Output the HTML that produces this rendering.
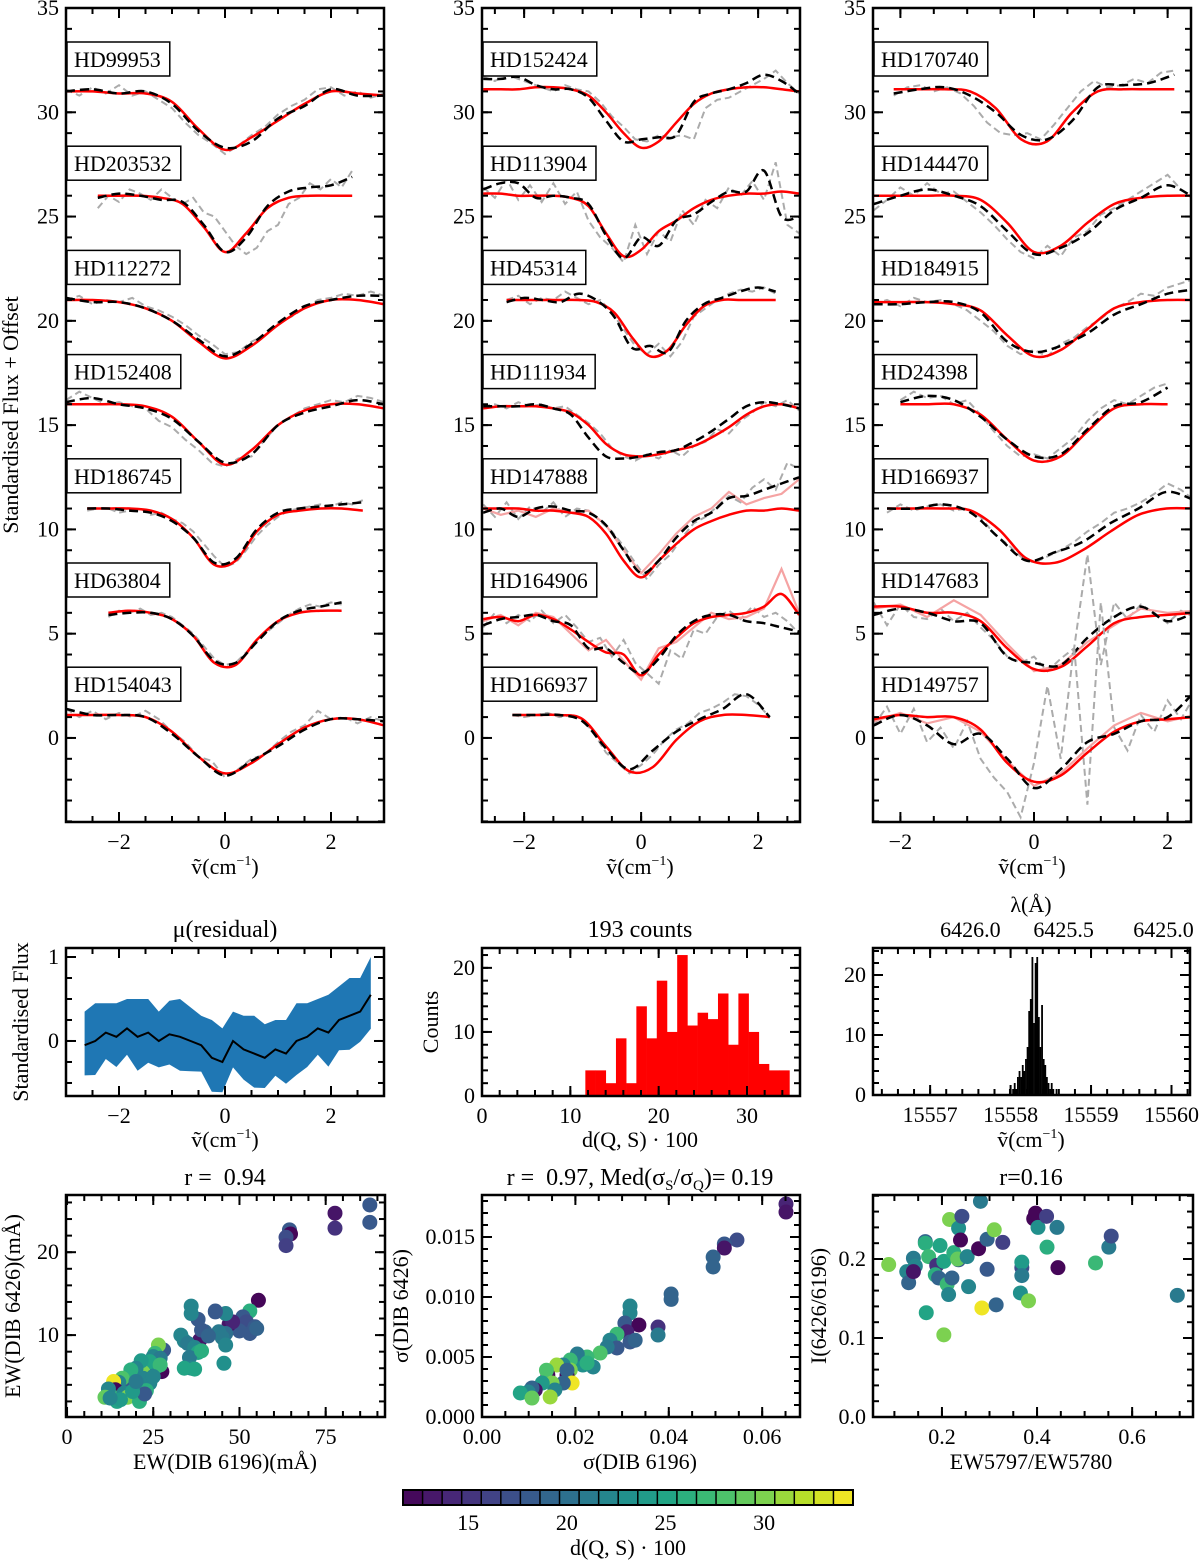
<!DOCTYPE html>
<html><head><meta charset="utf-8"><title>DIB spectra figure</title>
<style>
html,body{margin:0;padding:0;background:#fff;}
svg{display:block;font-family:"Liberation Serif",serif;}
text{white-space:pre;}
</style></head>
<body>
<svg id="fig" width="1200" height="1562" viewBox="0 0 1200 1562" xmlns="http://www.w3.org/2000/svg">
<rect x="0" y="0" width="1200" height="1562" fill="#fff"/>
<text x="18" y="415" font-size="22" text-anchor="middle" transform="rotate(-90 18 415)">Standardised Flux + Offset</text>
<text x="225" y="874" font-size="22" text-anchor="middle">ṽ(cm<tspan font-size="14" dy="-9">−1</tspan><tspan dy="9">)</tspan></text>
<text x="640" y="874" font-size="22" text-anchor="middle">ṽ(cm<tspan font-size="14" dy="-9">−1</tspan><tspan dy="9">)</tspan></text>
<text x="1032" y="874" font-size="22" text-anchor="middle">ṽ(cm<tspan font-size="14" dy="-9">−1</tspan><tspan dy="9">)</tspan></text>
<text x="225" y="937" font-size="24" text-anchor="middle">μ(residual)</text>
<text x="640" y="937" font-size="24" text-anchor="middle">193 counts</text>
<text x="1031" y="912" font-size="22" text-anchor="middle">λ(Å)</text>
<text x="28" y="1022" font-size="22" text-anchor="middle" transform="rotate(-90 28 1022)">Standardised Flux</text>
<text x="438" y="1022" font-size="22" text-anchor="middle" transform="rotate(-90 438 1022)">Counts</text>
<text x="225" y="1147" font-size="22" text-anchor="middle">ṽ(cm<tspan font-size="14" dy="-9">−1</tspan><tspan dy="9">)</tspan></text>
<text x="640" y="1147" font-size="22" text-anchor="middle">d(Q, S) · 100</text>
<text x="1031" y="1147" font-size="22" text-anchor="middle">ṽ(cm<tspan font-size="14" dy="-9">−1</tspan><tspan dy="9">)</tspan></text>
<text x="225" y="1185" font-size="24" text-anchor="middle">r =  0.94</text>
<text x="640" y="1185" font-size="24" text-anchor="middle">r =  0.97, Med(σ<tspan font-size="15" dy="5">S</tspan><tspan dy="-5">/σ</tspan><tspan font-size="15" dy="5">Q</tspan><tspan dy="-5">)= 0.19</tspan></text>
<text x="1031" y="1185" font-size="24" text-anchor="middle">r=0.16</text>
<text x="225" y="1469" font-size="22" text-anchor="middle">EW(DIB 6196)(mÅ)</text>
<text x="640" y="1469" font-size="22" text-anchor="middle">σ(DIB 6196)</text>
<text x="1031" y="1469" font-size="22" text-anchor="middle">EW5797/EW5780</text>
<text x="20" y="1306" font-size="22" text-anchor="middle" transform="rotate(-90 20 1306)">EW(DIB 6426)(mÅ)</text>
<text x="408" y="1306" font-size="22" text-anchor="middle" transform="rotate(-90 408 1306)">σ(DIB 6426)</text>
<text x="826" y="1306" font-size="22" text-anchor="middle" transform="rotate(-90 826 1306)">I(6426/6196)</text>
<text x="628" y="1555" font-size="22" text-anchor="middle">d(Q, S) · 100</text>
<g id="plots"></g>
</svg>
<script>
// ---------- spectra data (absolute y values incl. offset; evenly spaced across [x0,x1]) ----------
const HD99953_red=[31.0,31.0,30.9,30.9,30.5,29.2,28.2,28.8,29.6,30.4,31.0,30.9,30.8];
const HD99953_blk=[31.0,31.1,30.9,31.0,30.4,29.1,28.3,28.6,29.7,30.3,31.1,30.8,30.8];
const HD99953_gry=[31.1,30.8,31.2,30.9,31.3,30.8,31.0,30.6,30.2,29.5,28.9,28.5,28.0,28.4,28.9,29.3,29.9,30.3,30.6,31.1,31.2,30.8,31.0,30.7,30.9];
const HD203532_red=[26.0,26.0,26.0,25.9,25.6,24.5,23.3,24.2,25.4,25.9,26.0,26.0,26.0];
const HD203532_blk=[25.9,26.1,26.0,25.8,25.7,24.6,23.3,24.0,25.5,26.2,26.4,26.5,26.9];
const HD203532_gry=[25.4,26.0,25.7,26.3,26.1,25.8,26.3,25.9,25.6,25.9,25.2,25.0,24.3,23.6,23.2,23.5,24.3,24.6,25.6,25.9,26.6,26.3,26.8,26.4,27.2];
const HD112272_red=[21.0,21.0,20.9,20.6,20.0,19.0,18.2,18.8,19.8,20.6,21.0,21.0,20.8];
const HD112272_blk=[21.1,20.9,20.9,20.6,20.0,19.1,18.3,18.9,19.9,20.7,21.0,21.2,21.2];
const HD112272_gry=[21.0,21.2,20.8,21.0,20.9,21.1,20.7,20.5,20.2,19.8,19.3,18.9,18.4,18.5,19.0,19.3,19.9,20.2,20.6,21.0,21.1,21.3,21.2,21.4,21.2];
const HD152408_red=[16.0,16.0,16.0,15.9,15.4,14.2,13.1,13.8,15.0,15.7,16.0,16.0,15.8];
const HD152408_blk=[16.1,16.3,16.0,15.8,15.3,14.2,13.2,13.6,15.0,15.6,15.9,16.2,16.0];
const HD152408_gry=[16.2,16.6,16.3,16.0,16.1,15.9,15.8,15.2,14.9,14.3,13.8,13.2,13.0,13.4,13.5,14.3,15.0,15.4,15.8,16.0,16.2,16.1,16.4,16.3,16.1];
const HD186745_red=[11.0,11.0,11.0,10.9,10.5,9.6,8.3,8.5,9.9,10.7,10.9,11.0,11.0,10.9];
const HD186745_blk=[11.0,11.0,10.9,10.8,10.4,9.6,8.4,8.6,10.0,10.8,11.0,11.1,11.2,11.3];
const HD186745_gry=[10.9,11.0,11.0,10.8,10.9,11.0,10.7,10.8,10.5,10.3,9.9,9.3,8.7,8.2,8.4,9.0,9.7,10.2,10.6,10.9,11.0,11.1,11.2,11.1,11.3,11.2,11.4];
const HD63804_red=[6.0,6.1,6.0,5.7,4.9,3.6,3.5,4.7,5.6,6.0,6.1,6.1];
const HD63804_blk=[5.9,6.0,6.0,5.7,4.9,3.7,3.6,4.6,5.6,6.1,6.3,6.5];
const HD63804_gry=[5.8,6.1,6.0,6.2,5.9,6.0,5.8,5.4,5.0,4.4,3.8,3.5,3.6,4.1,4.6,5.1,5.5,5.9,6.2,6.4,6.3,6.5,6.4];
const HD154043_red=[1.1,1.1,1.1,1.0,0.3,-0.9,-1.7,-1.2,-0.3,0.5,0.9,0.9,0.6];
const HD154043_blk=[1.4,1.1,1.1,1.0,0.2,-0.9,-1.8,-1.1,-0.4,0.4,0.9,0.9,0.8];
const HD154043_gry=[1.4,1.0,1.3,0.9,1.2,1.0,1.3,0.9,0.3,-0.2,-0.9,-1.1,-1.9,-1.5,-1.0,-0.8,-0.2,0.3,0.6,1.3,0.9,1.0,0.7,1.0,0.8];

const HD152424_red=[31.1,31.1,31.1,31.2,31.2,31.1,30.8,30.0,29.0,28.3,28.6,29.5,30.4,30.9,31.1,31.2,31.2,31.1,31.0];
const HD152424_blk=[31.6,31.6,31.7,31.3,31.1,31.1,30.7,29.6,28.6,28.7,28.8,28.9,30.5,30.9,31.1,31.4,31.8,31.5,30.9];
const HD152424_gry=[31.7,31.5,31.8,31.6,31.4,31.2,31.0,31.3,31.1,31.0,30.5,29.8,29.3,28.7,28.6,28.9,28.8,28.9,28.7,30.2,30.6,30.7,31.0,31.3,31.6,32.0,31.4,30.9];
const HD113904_red=[26.1,26.1,26.0,26.0,26.0,25.9,25.5,24.2,23.1,23.4,24.3,24.8,25.4,25.8,26.0,26.1,26.1,26.2,26.1];
const HD113904_blk=[26.3,26.6,26.6,25.9,26.0,25.9,25.6,24.1,23.0,24.0,23.6,24.8,25.1,25.7,26.2,26.2,27.2,25.0,25.0];
const HD113904_gry=[26.4,25.9,26.8,25.8,26.5,25.7,26.6,25.6,26.2,24.8,24.0,23.5,22.8,24.6,23.2,24.3,23.8,25.3,24.6,25.8,25.4,26.4,26.0,26.7,25.8,27.6,24.6,24.2];
const HD45314_red=[21.0,21.0,21.0,21.0,21.0,20.9,20.4,19.2,18.3,18.6,19.8,20.7,21.0,21.0,21.0,21.0];
const HD45314_blk=[20.9,21.1,21.0,20.9,21.3,21.0,20.2,18.7,18.8,18.5,20.0,20.8,21.1,21.4,21.6,21.4];
const HD45314_gry=[21.0,21.2,20.8,21.1,21.0,21.4,21.1,20.8,21.0,20.4,19.6,18.8,18.4,18.9,18.3,19.0,20.2,20.6,21.0,21.3,21.5,21.4,21.6,21.3];
const HD111934_red=[15.8,15.9,15.9,15.9,15.8,15.6,15.0,14.1,13.6,13.5,13.6,13.8,14.0,14.4,14.9,15.5,15.9,16.0,15.8];
const HD111934_blk=[15.9,15.9,15.9,16.0,15.8,15.5,14.4,13.5,13.4,13.5,13.7,13.8,14.2,14.7,15.3,15.9,16.1,16.0,15.8];
const HD111934_gry=[15.9,16.0,15.8,16.1,15.9,16.0,15.8,15.9,15.5,15.1,14.6,13.9,13.5,13.3,13.6,13.4,13.8,13.5,14.0,14.2,14.8,14.6,15.2,15.6,16.1,15.9,16.2,15.7];
const HD147888_red=[11.0,11.0,11.0,10.9,10.9,10.8,10.6,9.8,8.5,7.7,8.5,9.3,10.0,10.4,10.7,10.9,10.9,11.0,10.9];
const HD147888_blk=[10.8,11.0,10.6,11.0,11.1,10.9,10.8,10.2,9.0,7.9,8.5,9.6,10.4,10.8,11.5,11.6,11.9,12.2,12.5];
const HD147888_gry=[11.2,10.6,11.3,10.5,11.1,10.8,11.3,10.6,11.0,10.9,10.4,9.9,9.2,8.4,7.6,8.3,8.8,9.6,10.3,10.6,11.1,11.6,11.3,12.0,12.4,11.9,13.2,12.9];
const HD147888_pnk=[11.0,10.7,10.9,10.6,11.0,10.8,10.9,10.2,9.0,7.9,8.8,9.8,10.6,11.0,11.8,11.2,11.5,11.7,12.4];
const HD164906_red=[5.7,5.8,5.6,5.9,5.7,5.2,4.6,4.1,4.0,3.0,4.0,4.8,5.5,5.8,5.9,6.0,6.3,6.9,5.9];
const HD164906_blk=[5.4,5.7,5.8,5.9,5.6,5.4,4.3,4.3,3.6,3.1,3.8,4.9,5.6,5.9,5.9,5.6,5.5,5.3,5.1];
const HD164906_gry=[5.3,6.0,5.5,5.9,5.6,6.1,5.5,5.9,5.3,4.6,4.8,3.9,4.7,3.6,3.1,2.6,4.2,3.8,5.2,5.0,5.8,6.1,5.7,6.3,5.8,6.0,5.6,5.0];
const HD164906_pnk=[5.6,5.9,5.4,6.0,5.8,5.0,4.2,4.7,3.7,2.8,4.3,4.6,5.3,6.0,5.7,5.8,6.2,8.1,6.0];
const HD166937_red=[1.1,1.1,1.1,0.9,-0.4,-1.6,-1.4,-0.1,0.8,1.1,1.1,1.0];
const HD166937_blk=[1.1,1.1,1.1,0.8,-0.5,-1.5,-0.6,0.3,0.9,1.4,2.1,1.0];
const HD166937_gry=[1.1,1.0,1.1,1.2,1.0,1.1,0.9,0.2,-0.7,-1.2,-1.7,-1.3,-0.8,-0.1,0.4,0.7,1.2,1.4,1.7,2.1,2.0,1.6,1.0];

const HD170740_red=[31.1,31.1,31.1,31.0,30.2,28.7,28.6,30.0,31.0,31.1,31.1,31.1];
const HD170740_blk=[30.9,31.1,31.2,30.8,30.0,28.9,28.7,29.6,31.2,31.3,31.4,31.8];
const HD170740_gry=[30.8,31.2,31.3,31.0,31.2,30.9,30.3,29.5,29.0,28.9,29.0,28.7,29.4,30.2,31.0,31.5,31.2,31.3,31.6,31.4,31.9,32.0];
const HD144470_red=[26.0,26.0,26.0,26.0,25.8,24.7,23.3,23.6,24.7,25.6,25.9,26.0,26.0];
const HD144470_blk=[25.6,26.0,26.3,26.0,25.5,24.3,23.2,23.5,24.2,25.3,25.9,26.5,25.9];
const HD144470_gry=[25.3,25.8,26.4,26.0,26.6,26.1,26.2,25.7,25.2,24.6,23.9,23.3,23.0,23.6,23.1,24.0,24.3,25.1,25.4,25.8,26.2,26.6,27.0,26.3,25.8];
const HD184915_red=[20.9,20.9,20.9,20.8,20.5,19.3,18.3,18.6,19.6,20.6,20.9,21.0,21.0];
const HD184915_blk=[20.8,20.8,20.9,20.9,20.4,19.0,18.5,18.8,19.4,20.3,20.8,21.3,21.5];
const HD184915_gry=[20.8,21.0,20.7,21.1,20.9,21.0,20.8,20.5,20.0,19.5,18.8,18.4,18.6,18.3,18.9,19.2,19.7,20.1,20.6,20.9,21.3,21.2,21.6,21.8,22.0];
const HD24398_red=[16.0,16.0,16.0,15.5,14.3,13.3,13.5,14.7,15.8,16.0,16.0];
const HD24398_blk=[16.1,16.4,16.2,15.4,14.3,13.5,13.6,14.8,15.9,16.1,16.8];
const HD24398_gry=[16.2,16.6,16.3,16.4,16.0,16.2,15.5,14.7,14.0,13.5,13.6,13.4,13.9,14.4,15.2,15.8,16.2,16.0,16.4,16.8,17.0];
const HD166937b_red=[11.0,11.0,11.0,10.9,10.0,8.6,8.4,9.0,9.9,10.7,11.0,11.0];
const HD166937b_blk=[11.0,11.0,11.2,10.8,9.6,8.5,8.9,9.4,10.3,11.0,11.8,11.4];
const HD166937b_gry=[10.8,11.2,10.9,11.1,11.2,10.9,11.0,10.6,9.8,9.3,8.7,8.4,8.7,9.0,9.4,9.9,10.3,10.8,11.0,11.3,11.7,12.2,11.9,11.4];
const HD147683_red=[6.3,6.3,6.0,6.0,5.6,4.3,3.3,3.4,4.4,5.5,5.8,5.9,6.0];
const HD147683_blk=[5.9,6.2,6.0,5.6,5.5,3.9,3.6,3.5,4.8,5.8,6.3,5.6,6.0];
const HD147683_gry=[6.5,5.4,6.4,5.8,5.7,6.2,5.6,6.0,5.3,4.7,3.9,3.6,3.9,3.2,3.8,4.3,8.8,3.5,6.5,5.7,6.4,6.0,5.5,6.1,5.8];
const HD147683_pnk=[6.2,6.4,5.8,6.6,5.9,4.5,3.2,3.5,4.6,5.4,6.2,6.0,6.1];
const HD149757_red=[0.9,1.1,1.0,1.0,0.4,-1.2,-2.1,-1.8,-0.7,0.3,0.8,0.9,1.0];
const HD149757_blk=[0.6,1.1,0.6,-0.3,0.2,-1.0,-2.4,-1.5,-0.2,0.2,0.8,1.0,2.2];
const HD149757_gry=[0.6,1.5,0.2,1.4,-0.2,0.5,-0.5,0.8,-1.0,-1.9,-2.6,-3.8,-1.2,2.5,-1.0,4.4,-3.2,6.5,0.5,-0.6,1.1,0.3,1.8,0.9,2.0];
const HD149757_pnk=[0.8,1.2,0.7,1.0,0.3,-1.1,-2.3,-1.7,-0.5,0.6,1.2,0.8,1.1];

// name, panel, x0, x1, red, black, gray, pink
const spectraList=[
 ['HD99953',0,-3,3,HD99953_red,HD99953_blk,HD99953_gry,null],
 ['HD203532',0,-2.4,2.4,HD203532_red,HD203532_blk,HD203532_gry,null],
 ['HD112272',0,-3,3,HD112272_red,HD112272_blk,HD112272_gry,null],
 ['HD152408',0,-3,3,HD152408_red,HD152408_blk,HD152408_gry,null],
 ['HD186745',0,-2.6,2.6,HD186745_red,HD186745_blk,HD186745_gry,null],
 ['HD63804',0,-2.2,2.2,HD63804_red,HD63804_blk,HD63804_gry,null],
 ['HD154043',0,-3,3,HD154043_red,HD154043_blk,HD154043_gry,null],
 ['HD152424',1,-2.7,2.7,HD152424_red,HD152424_blk,HD152424_gry,null],
 ['HD113904',1,-2.7,2.7,HD113904_red,HD113904_blk,HD113904_gry,null],
 ['HD45314',1,-2.3,2.3,HD45314_red,HD45314_blk,HD45314_gry,null],
 ['HD111934',1,-2.7,2.7,HD111934_red,HD111934_blk,HD111934_gry,null],
 ['HD147888',1,-2.7,2.7,HD147888_red,HD147888_blk,HD147888_gry,HD147888_pnk],
 ['HD164906',1,-2.7,2.7,HD164906_red,HD164906_blk,HD164906_gry,HD164906_pnk],
 ['HD166937',1,-2.2,2.2,HD166937_red,HD166937_blk,HD166937_gry,null],
 ['HD170740',2,-2.1,2.1,HD170740_red,HD170740_blk,HD170740_gry,null],
 ['HD144470',2,-2.4,2.4,HD144470_red,HD144470_blk,HD144470_gry,null],
 ['HD184915',2,-2.4,2.4,HD184915_red,HD184915_blk,HD184915_gry,null],
 ['HD24398',2,-2.0,2.0,HD24398_red,HD24398_blk,HD24398_gry,null],
 ['HD166937',2,-2.2,2.4,HD166937b_red,HD166937b_blk,HD166937b_gry,null],
 ['HD147683',2,-2.4,2.4,HD147683_red,HD147683_blk,HD147683_gry,HD147683_pnk],
 ['HD149757',2,-2.4,2.4,HD149757_red,HD149757_blk,HD149757_gry,HD149757_pnk]
];

// ---------- residual panel ----------
const residMean=[-0.05,0.0,0.1,0.05,0.15,0.05,0.1,0.0,0.08,0.05,0.0,-0.05,-0.2,-0.25,0.0,-0.1,-0.15,-0.2,-0.1,-0.15,0.0,0.05,0.15,0.1,0.25,0.3,0.35,0.55];
const residSd=[0.4,0.45,0.35,0.4,0.35,0.45,0.4,0.35,0.4,0.45,0.4,0.35,0.45,0.4,0.35,0.4,0.45,0.4,0.35,0.4,0.45,0.4,0.35,0.45,0.4,0.45,0.4,0.45];
const residRange=[-2.65,2.75];

// ---------- distance histogram ----------
const distBinStart=11.7, distBinWidth=1.155;
const distCounts=[4,4,2,9,2,14,9,18,10,22,11,13,12,16,8,16,10,5,4,4];

// ---------- wavenumber histogram ----------
const nuBinStart=15557.98, nuBinWidth=0.02;
const nuCounts=[1,0,1,2,1,3,4,3,5,4,6,8,14,16,23,12,22,23,13,8,15,6,5,3,2,1,2,1,0,1];
const topTickLabels=['6426.0','6425.5','6425.0'];
const topTickNu=[15557.5,15558.66,15559.9];

// ---------- scatter: EW ----------
const ew6196=[87.8,87.8,77.7,77.7,64.5,64.8,63.5,63.5,55.5,53,51,52,53,50,54.5,55,47,48,46,44,46,43,43,45,46,45.5,40,38.5,39,41,38,36,36,34,33,35,37,38,35.5,36,34,37,39,28,27.5,26.5,25.5,25,26,27,24,22,21,21.5,20,22,24,23,19.5,18.5,17,16,15,13.5,14,13,12,11,14.5,16.5,17.5,21,22.5,19,20,27,25,15.5,12.5];
const ew6426=[25.7,23.6,24.7,22.9,22.7,22.2,21.8,20.8,14.2,12.9,12.2,11.6,10.2,10.5,11,10.8,11.3,11.6,10.2,10.4,12.6,12.8,12.9,9.7,8.8,6.6,10.4,9.4,10.6,9.9,11.9,13.5,12.6,9.3,10,9.0,8.5,7.9,7.3,6.0,6.0,5.9,8.1,8.2,5.6,8.8,7.8,7.4,6.2,7.2,6.8,5.5,5.8,6.9,6.0,4.8,4.2,3.3,4.7,5.8,3.8,4.8,4.3,4.4,3.4,2.6,3.5,2.5,2.0,3.0,2.5,2.0,2.9,3.2,4.4,6.4,5.0,2.2,2.4];
const ewDist=[18,18,13,15,18,12,17,16,12,26,18,17,18,18,18,19,13,14,20,21,22,18,18,21,22,23,19,13,18,19,18,22,22,22,22,21,22,25,21,22,25,25,26,18,12,30,27,22,22,21,25,30,30,24,22,22,22,26,22,26,18,28,22,34,12,27,22,29,25,22,30,26,18,24,21,27,22,24,22];

// ---------- scatter: sigma ----------
const sig6196=[0.0651,0.0651,0.0546,0.0519,0.0519,0.0495,0.0495,0.0405,0.0405,0.0317,0.0317,0.0306,0.0336,0.0377,0.0377,0.031,0.0289,0.0274,0.0289,0.0317,0.0328,0.0268,0.0253,0.0225,0.0216,0.0238,0.0204,0.0189,0.0189,0.0174,0.016,0.0182,0.0182,0.0193,0.0174,0.0141,0.0138,0.015,0.0156,0.0129,0.0114,0.0107,0.0099,0.0082,0.0107,0.0146,0.0225];
const sig6426=[0.01775,0.01708,0.01475,0.01442,0.01408,0.01333,0.0125,0.01025,0.0098,0.00925,0.00867,0.00783,0.00767,0.0075,0.00683,0.0071,0.0069,0.0064,0.00575,0.00625,0.0064,0.00583,0.00533,0.005,0.00433,0.00417,0.00525,0.00475,0.00392,0.00433,0.00433,0.0035,0.0039,0.00283,0.00283,0.0035,0.0039,0.00283,0.00225,0.00283,0.00225,0.00242,0.00208,0.002,0.00158,0.00167,0.0045];
const sigDist=[14,13,17,18,13,19,19,19,19,22,22,18,12,15,21,14,27,22,18,18,19,21,28,27,23,22,21,27,30,22,31,12,19,34,19,12,28,30,22,24,13,19,22,25,29,31,26];

// ---------- scatter: ratio ----------
const ratioEW=[.088,.126,.130,.140,.144,.140,.165,.165,.172,.167,.189,.186,.193,.196,.204,.204,.211,.214,.221,.225,.216,.235,.239,.242,.235,.233,.253,.256,.277,.281,.284,.295,.295,.310,.314,.328,.365,.368,.368,.368,.382,.393,.397,.402,.420,.421,.442,.444,.523,.551,.556,.695];
const ratioI=[.193,.184,.170,.201,.191,.184,.222,.220,.203,.132,.192,.180,.176,.217,.197,.104,.168,.155,.176,.208,.250,.239,.224,.254,.199,.200,.203,.165,.213,.273,.138,.225,.187,.237,.142,.221,.157,.189,.196,.179,.147,.251,.258,.240,.254,.215,.240,.189,.195,.215,.229,.154];
const ratioDist=[30,22,19,21,22,13,19,26,27,25,15,26,19,25,25,30,27,22,19,26,30,23,12,17,18,29,22,22,12,21,34,19,18,30,19,16,23,17,24,21,30,12,12,23,16,26,21,12,27,21,17,21];

// ---------- colorbar ----------
const cbarMin=11.7, cbarMax=34.5;
const cbarTicks=[15,20,25,30];

// =================== rendering ===================
const NS='http://www.w3.org/2000/svg';
const root=document.getElementById('plots');
function mk(tag,attrs,parent){const e=document.createElementNS(NS,tag);for(const k in attrs)e.setAttribute(k,attrs[k]);(parent||root).appendChild(e);return e;}
const VIR=['#440154','#482475','#414487','#355f8d','#2a788e','#21918c','#22a884','#44bf70','#7ad151','#bddf26','#fde725'];
function hex(h){return [parseInt(h.substr(1,2),16),parseInt(h.substr(3,2),16),parseInt(h.substr(5,2),16)];}
function viridis(v){let t=(v-cbarMin)/(cbarMax-cbarMin);t=Math.max(0,Math.min(1,t));const s=t*10,i=Math.min(9,Math.floor(s)),f=s-i;const a=hex(VIR[i]),b=hex(VIR[i+1]);return 'rgb('+a.map((c,k)=>Math.round(c+(b[k]-c)*f)).join(',')+')';}
let clipId=0;
function fmt(v,d){let s=v.toFixed(d);if(s.startsWith('-'))s='−'+s.slice(1);if(/^−0(\.0+)?$/.test(s))s=s.slice(1);return s;}

function axes(c){
  const g=mk('g',{});
  
  
  const sx=v=>c.x+(v-c.xmin)/(c.xmax-c.xmin)*c.w;
  const sy=v=>c.y+c.h-(v-c.ymin)/(c.ymax-c.ymin)*c.h;
  const id='clip'+(clipId++);
  const cp=mk('clipPath',{id:id},g);
  mk('rect',{x:c.x,y:c.y,width:c.w,height:c.h},cp);
  const content=mk('g',{'clip-path':'url(#'+id+')'},g);
  
  
  const tg=mk('g',{stroke:'#000','stroke-width':2},g);
  
  
  function ticks(axis,step,len,labelStep,dec){
    const mn=axis==='x'?c.xmin:c.ymin,mx=axis==='x'?c.xmax:c.ymax;
    for(let k=Math.ceil(mn/step-1e-6);k*step<=mx+1e-9;k++){
      const v=k*step;
      const isLab=labelStep&&Math.abs(v/labelStep-Math.round(v/labelStep))<1e-6;
      if(axis==='x'){
        const p=sx(v);if(p<c.x-2||p>c.x+c.w+2)continue;
        if(p>c.x+1&&p<c.x+c.w-1){
          const t1=mk('line',{x1:p,x2:p,y1:c.y+c.h,y2:c.y+c.h-len},tg);
          
          
          const t2=mk('line',{x1:p,x2:p,y1:c.y,y2:c.y+len},tg);
          
          
        }
        if(isLab){
          const t=mk('text',{x:p,y:c.y+c.h+27,'font-size':22,'text-anchor':'middle'},g);
          
          
          t.textContent=fmt(v,dec);}
      }else{
        const p=sy(v);if(p<c.y-2||p>c.y+c.h+2)continue;
        const t1=mk('line',{x1:c.x,x2:c.x+len,y1:p,y2:p},tg);
        
        
        const t2=mk('line',{x1:c.x+c.w,x2:c.x+c.w-len,y1:p,y2:p},tg);
        
        
        if(isLab){
          const t=mk('text',{x:c.x-7,y:p+7,'font-size':22,'text-anchor':'end'},g);
          
          
          t.textContent=fmt(v,dec);}
      }
    }
  }
  ticks('x',c.xMin,6,0,0);ticks('x',c.xMaj,10,c.xLab,c.xDec);
  ticks('y',c.yMin,6,0,0);ticks('y',c.yMaj,10,c.yLab,c.yDec);
  const fr=mk('rect',{x:c.x,y:c.y,width:c.w,height:c.h,fill:'none',stroke:'#000','stroke-width':2.5},g);
  
  
  return {sx,sy,g:content,outer:g};
}
function smooth(p){let d='M'+p[0][0].toFixed(1)+','+p[0][1].toFixed(1);
  for(let i=0;i<p.length-1;i++){const p0=p[i-1]||p[i],p1=p[i],p2=p[i+1],p3=p[i+2]||p2;
    const c1=[p1[0]+(p2[0]-p0[0])/6,p1[1]+(p2[1]-p0[1])/6],c2=[p2[0]-(p3[0]-p1[0])/6,p2[1]-(p3[1]-p1[1])/6];
    d+=' C'+c1[0].toFixed(1)+','+c1[1].toFixed(1)+' '+c2[0].toFixed(1)+','+c2[1].toFixed(1)+' '+p2[0].toFixed(1)+','+p2[1].toFixed(1);}
  return d;}
function pts(arr,x0,x1,A){return arr.map((v,i)=>[A.sx(x0+(x1-x0)*i/(arr.length-1)),A.sy(v)]);}
function linear(p){return 'M'+p.map(q=>q[0].toFixed(1)+','+q[1].toFixed(1)).join(' L');}

// ---- top spectra panels ----
const topCfg=[{x:66,xmin:-3,xmax:3},{x:482,xmin:-2.72,xmax:2.716},{x:873,xmin:-2.41,xmax:2.35}];
const topAxes=topCfg.map((t,i)=>axes({name:'spectra-panel-'+(i+1),x:t.x,y:8,w:318,h:814,xmin:t.xmin,xmax:t.xmax,ymin:-4.03,ymax:35,
  xMaj:2,xMin:0.5,xLab:2,xDec:0,yMaj:5,yMin:1,yLab:5,yDec:0}));
const idxInPanel=[0,0,0];
spectraList.forEach(s=>{
  const [nm,pi,x0,x1,red,blk,gry,pnk]=s;const A=topAxes[pi];
  const gp=mk('path',{d:linear(pts(gry,x0,x1,A)),fill:'none',stroke:'#ababab','stroke-width':2,'stroke-dasharray':'7 4'},A.g);
  
  
  if(pnk){const pp=mk('path',{d:linear(pts(pnk,x0,x1,A)),fill:'none',stroke:'#f5a3a3','stroke-width':2.2},A.g);
    
    }
  const rp=mk('path',{d:smooth(pts(red,x0,x1,A)),fill:'none',stroke:'#ff0000','stroke-width':2.5},A.g);
  
  
  const bp=mk('path',{d:smooth(pts(blk,x0,x1,A)),fill:'none',stroke:'#000','stroke-width':2.5,'stroke-dasharray':'9 5'},A.g);
  
  
  const k=idxInPanel[pi]++;
  const cy=59+104.2*k;
  const bx=mk('rect',{x:topCfg[pi].x+1,y:cy-17,width:100,height:34,fill:'#fff',stroke:'#000','stroke-width':1.5},topAxes[pi].outer);
  
  
  const tx=mk('text',{x:topCfg[pi].x+8,y:cy+8,'font-size':22},topAxes[pi].outer);
  
  
  tx.textContent=nm;
  try{bx.setAttribute('width',tx.getComputedTextLength()+16);}catch(e){}
});

// ---- residual panel ----
(function(){
  const A=axes({name:'residual-panel',x:66,y:948,w:318,h:148,xmin:-3,xmax:3,ymin:-0.655,ymax:1.107,xMaj:2,xMin:0.5,xLab:2,xDec:0,yMaj:1,yMin:0.25,yLab:1,yDec:0});
  const n=residMean.length,x=i=>residRange[0]+(residRange[1]-residRange[0])*i/(n-1);
  const up=residMean.map((m,i)=>[A.sx(x(i)),A.sy(m+residSd[i])]);
  const lo=residMean.map((m,i)=>[A.sx(x(i)),A.sy(m-residSd[i]*0.9)]).reverse();
  const band=mk('path',{d:linear(up.concat(lo))+' Z',fill:'#1f77b4',stroke:'none'},A.g);
  
  
  const ml=mk('path',{d:linear(residMean.map((m,i)=>[A.sx(x(i)),A.sy(m)])),fill:'none',stroke:'#000','stroke-width':2},A.g);
  
  
})();

// ---- distance histogram ----
(function(){
  const A=axes({name:'distance-histogram',x:482,y:948,w:318,h:148,xmin:0,xmax:36,ymin:0,ymax:23.1,xMaj:10,xMin:2,xLab:10,xDec:0,yMaj:10,yMin:2,yLab:10,yDec:0});
  distCounts.forEach((c,i)=>{const a=distBinStart+i*distBinWidth,b=a+distBinWidth;
    const r=mk('rect',{x:A.sx(a),y:A.sy(c),width:A.sx(b)-A.sx(a)+0.3,height:A.sy(0)-A.sy(c),fill:'#ff0000'},A.g);
    
    });
})();

// ---- wavenumber histogram ----
(function(){
  const A=axes({name:'wavenumber-histogram',x:873,y:948,w:317,h:147,xmin:15556.29,xmax:15560.23,ymin:0,ymax:24.5,xMaj:1,xMin:0.2,xLab:1,xDec:0,yMaj:10,yMin:2,yLab:10,yDec:0});
  nuCounts.forEach((c,i)=>{if(!c)return;const a=nuBinStart+i*nuBinWidth,b=a+nuBinWidth;
    const r=mk('rect',{x:A.sx(a),y:A.sy(c),width:A.sx(b)-A.sx(a)+0.2,height:A.sy(0)-A.sy(c),fill:'#000'},A.g);
    
    });
  topTickLabels.forEach((l,i)=>{const t=mk('text',{x:A.sx(topTickNu[i]),y:937,'font-size':22,'text-anchor':'middle'},A.outer);
    
    
    t.textContent=l;});
})();

// ---- scatter panels ----
function scatter(A,xs,ys,ds,r,nm){xs.forEach((x,i)=>{const c=mk('circle',{cx:A.sx(x),cy:A.sy(ys[i]),r:r,fill:viridis(ds[i])},A.g);
  
  });}
(function(){
  const A=axes({name:'ew-scatter',x:66,y:1195,w:319,h:222,xmin:-0.3,xmax:92.2,ymin:0.12,ymax:26.9,xMaj:25,xMin:5,xLab:25,xDec:0,yMaj:10,yMin:2,yLab:10,yDec:0});
  scatter(A,ew6196,ew6426,ewDist,7.5,'ew-point');
  const B=axes({name:'sigma-scatter',x:482,y:1195,w:318,h:222,xmin:0,xmax:0.0681,ymin:0,ymax:0.0185,xMaj:0.02,xMin:0.005,xLab:0.02,xDec:2,yMaj:0.005,yMin:0.001,yLab:0.005,yDec:3});
  scatter(B,sig6196,sig6426,sigDist,7.5,'sigma-point');
  const C=axes({name:'ratio-scatter',x:873,y:1195,w:320,h:222,xmin:0.055,xmax:0.728,ymin:0,ymax:0.281,xMaj:0.2,xMin:0.05,xLab:0.2,xDec:1,yMaj:0.1,yMin:0.02,yLab:0.1,yDec:1});
  scatter(C,ratioEW,ratioI,ratioDist,7.5,'ratio-point');
})();

// ---- colorbar ----
(function(){
  const x0=403,x1=853,y0=1490,h=15,n=23;
  const sx=v=>x0+(v-cbarMin)/(cbarMax-cbarMin)*(x1-x0);
  const g=mk('g',{});
  
  
  for(let i=0;i<n;i++){const a=cbarMin+(cbarMax-cbarMin)*i/n,b=cbarMin+(cbarMax-cbarMin)*(i+1)/n;
    const r=mk('rect',{x:sx(a),y:y0,width:sx(b)-sx(a)+0.5,height:h,fill:viridis((a+b)/2)},g);
    
    
    if(i>0){const l=mk('line',{x1:sx(a),x2:sx(a),y1:y0,y2:y0+h,stroke:'#000','stroke-width':1.5},g);
      
      }}
  const fr=mk('rect',{x:x0,y:y0,width:x1-x0,height:h,fill:'none',stroke:'#000','stroke-width':2},g);
  
  
  cbarTicks.forEach(v=>{const t=mk('text',{x:sx(v),y:y0+h+25,'font-size':22,'text-anchor':'middle'},g);
    
    
    t.textContent=String(v);});
})();
</script>
</body></html>
